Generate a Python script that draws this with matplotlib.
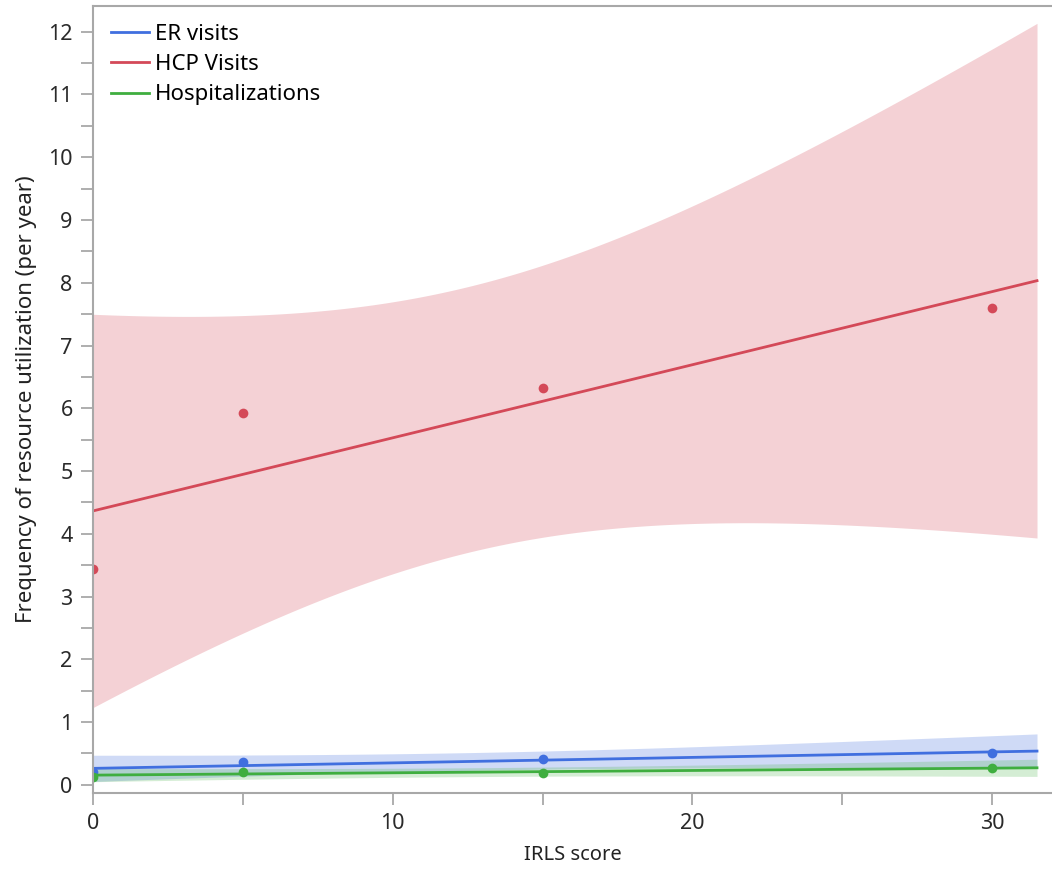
import numpy as np
import matplotlib
matplotlib.use("Agg")
import matplotlib.pyplot as plt
from matplotlib.ticker import MultipleLocator

plt.rcParams['font.family'] = ['Noto Sans', 'DejaVu Sans']

# observed means per IRLS score group
irls = [0, 5, 15, 30]
er_visits = [0.20, 0.37, 0.41, 0.505]
hcp_visits = [3.44, 5.93, 6.32, 7.59]
hospitalizations = [0.13, 0.21, 0.196, 0.266]

series_names = ["ER visits", "HCP Visits", "Hospitalizations"]
series_colors = ["#406FDF", "#D44958", "#3FAE3F"]
band_alpha = [0.25, 0.25, 0.22]

x_end = 31.5
t_crit = 4.303  # t(0.975, df=2)


def fit_with_ci(x, y, xs):
    # ordinary least squares line and 95% confidence band of the mean
    x = np.asarray(x, float)
    y = np.asarray(y, float)
    slope, intercept = np.polyfit(x, y, 1)
    resid = y - (intercept + slope * x)
    n = len(x)
    s = np.sqrt(np.sum(resid ** 2) / (n - 2))
    sxx = np.sum((x - x.mean()) ** 2)
    yhat = intercept + slope * xs
    hw = t_crit * s * np.sqrt(1.0 / n + (xs - x.mean()) ** 2 / sxx)
    return yhat, yhat - hw, yhat + hw


fig = plt.figure(figsize=(10.52, 8.69), dpi=100)
ax = fig.add_axes([0.0884, 0.0875, 0.9116, 0.9056])

xs = np.linspace(0, x_end, 200)
all_y = [er_visits, hcp_visits, hospitalizations]

# bands first, HCP underneath
for i in [1, 0, 2]:
    yhat, lo, hi = fit_with_ci(irls, all_y[i], xs)
    ax.fill_between(xs, lo, hi, color=series_colors[i], alpha=band_alpha[i], lw=0)

for i in [1, 0, 2]:
    yhat, lo, hi = fit_with_ci(irls, all_y[i], xs)
    ax.plot(xs, yhat, color=series_colors[i], lw=2.0, label=series_names[i])
    ax.plot(irls, all_y[i], 'o', color=series_colors[i], ms=7, mec='none', clip_on=True)

ax.set_xlim(0, 32)
ax.set_ylim(-0.13, 12.41)

ax.xaxis.set_major_locator(MultipleLocator(10))
ax.xaxis.set_minor_locator(MultipleLocator(5))
ax.yaxis.set_major_locator(MultipleLocator(1))
ax.yaxis.set_minor_locator(MultipleLocator(0.5))

spine_col = "#A8A8A8"
for side in ['left', 'bottom', 'top']:
    ax.spines[side].set_color(spine_col)
    ax.spines[side].set_linewidth(1.5)
ax.spines['right'].set_visible(False)

ax.tick_params(which='both', direction='out', length=8.6, width=1.3, color=spine_col,
               labelsize=15.5, labelcolor='#2A2A2A', pad=6)

ax.set_xlabel("IRLS score", fontsize=14.5, color='#222222', labelpad=8)
ax.set_ylabel("Frequency of resource utilization (per year)", fontsize=16, color='#222222', labelpad=8)

handles, labels = ax.get_legend_handles_labels()
order = [labels.index(n) for n in series_names]
ax.legend([handles[k] for k in order], [labels[k] for k in order], loc='upper left',
          frameon=False, fontsize=16, handlelength=1.7, handletextpad=0.3,
          labelspacing=0.42, borderaxespad=0.4, bbox_to_anchor=(0.0, 1.0))

fig.savefig("out.png", dpi=100)
